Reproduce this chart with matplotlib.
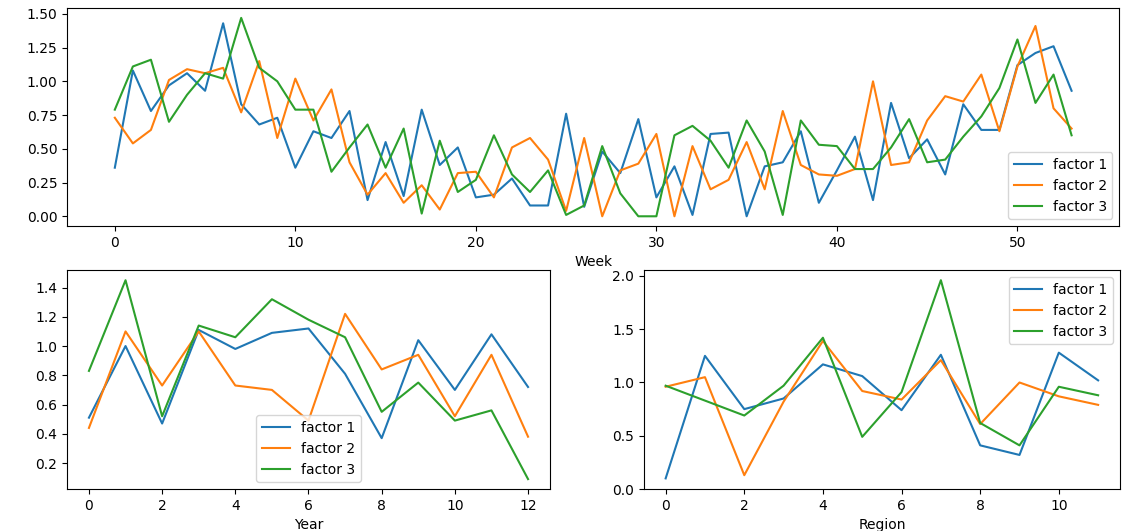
import matplotlib

matplotlib.use("Agg")
import matplotlib.pyplot as plt

LABELS = ["factor 1", "factor 2", "factor 3"]

# weekly factors (54 weeks)
week_f1 = [0.36, 1.08, 0.78, 0.97, 1.06, 0.93, 1.43, 0.83, 0.68, 0.73,
           0.36, 0.63, 0.58, 0.78, 0.12, 0.55, 0.15, 0.79, 0.38, 0.51,
           0.14, 0.16, 0.28, 0.08, 0.08, 0.76, 0.07, 0.48, 0.32, 0.72,
           0.14, 0.37, 0.01, 0.61, 0.62, 0.00, 0.37, 0.40, 0.63, 0.10,
           0.34, 0.59, 0.12, 0.84, 0.43, 0.57, 0.31, 0.83, 0.64, 0.64,
           1.12, 1.21, 1.26, 0.93]
week_f2 = [0.73, 0.54, 0.64, 1.01, 1.09, 1.06, 1.10, 0.77, 1.15, 0.58,
           1.02, 0.71, 0.94, 0.40, 0.16, 0.32, 0.10, 0.23, 0.05, 0.32,
           0.33, 0.14, 0.51, 0.58, 0.42, 0.04, 0.58, 0.00, 0.34, 0.39,
           0.61, 0.00, 0.52, 0.20, 0.27, 0.55, 0.20, 0.78, 0.38, 0.31,
           0.30, 0.35, 1.00, 0.38, 0.40, 0.71, 0.89, 0.85, 1.05, 0.63,
           1.11, 1.41, 0.80, 0.65]
week_f3 = [0.79, 1.11, 1.16, 0.70, 0.90, 1.06, 1.02, 1.47, 1.10, 1.00,
           0.79, 0.79, 0.33, 0.51, 0.68, 0.36, 0.65, 0.02, 0.56, 0.18,
           0.27, 0.60, 0.31, 0.18, 0.34, 0.01, 0.08, 0.52, 0.17, 0.00,
           0.00, 0.60, 0.67, 0.56, 0.36, 0.71, 0.48, 0.01, 0.71, 0.53,
           0.52, 0.35, 0.35, 0.51, 0.72, 0.40, 0.42, 0.59, 0.74, 0.95,
           1.31, 0.84, 1.05, 0.60]

# yearly factors (13 years)
year_f1 = [0.51, 1.00, 0.47, 1.11, 0.98, 1.09, 1.12, 0.81, 0.37, 1.04, 0.70, 1.08, 0.72]
year_f2 = [0.44, 1.10, 0.73, 1.10, 0.73, 0.70, 0.49, 1.22, 0.84, 0.94, 0.52, 0.94, 0.38]
year_f3 = [0.83, 1.45, 0.52, 1.14, 1.06, 1.32, 1.18, 1.06, 0.55, 0.75, 0.49, 0.56, 0.09]

# regional factors (12 regions)
region_f1 = [0.10, 1.25, 0.75, 0.85, 1.17, 1.06, 0.74, 1.26, 0.41, 0.32, 1.28, 1.02]
region_f2 = [0.96, 1.05, 0.13, 0.82, 1.39, 0.92, 0.84, 1.21, 0.61, 1.00, 0.87, 0.79]
region_f3 = [0.97, 0.83, 0.69, 0.97, 1.42, 0.49, 0.91, 1.96, 0.62, 0.41, 0.96, 0.88]


def plot_factors(ax, series, xlabel, loc):
    for vals, lbl in zip(series, LABELS):
        ax.plot(range(len(vals)), vals, label=lbl)
    ax.set_xlabel(xlabel)
    ax.legend(loc=loc)


fig = plt.figure(figsize=(11.22, 5.31), dpi=100)
ax_week = fig.add_axes([0.0597, 0.574, 0.938, 0.411])
ax_year = fig.add_axes([0.0597, 0.079, 0.4305, 0.412])
ax_region = fig.add_axes([0.574, 0.079, 0.424, 0.412])

plot_factors(ax_week, [week_f1, week_f2, week_f3], "Week", "lower right")
plot_factors(ax_year, [year_f1, year_f2, year_f3], "Year", "lower center")
plot_factors(ax_region, [region_f1, region_f2, region_f3], "Region", "upper right")

ax_week.set_yticks([0, 0.25, 0.5, 0.75, 1.0, 1.25, 1.5])
ax_year.set_yticks([0.2, 0.4, 0.6, 0.8, 1.0, 1.2, 1.4])
ax_region.set_yticks([0.0, 0.5, 1.0, 1.5, 2.0])

fig.savefig("out.png", dpi=100)
plt.close(fig)
